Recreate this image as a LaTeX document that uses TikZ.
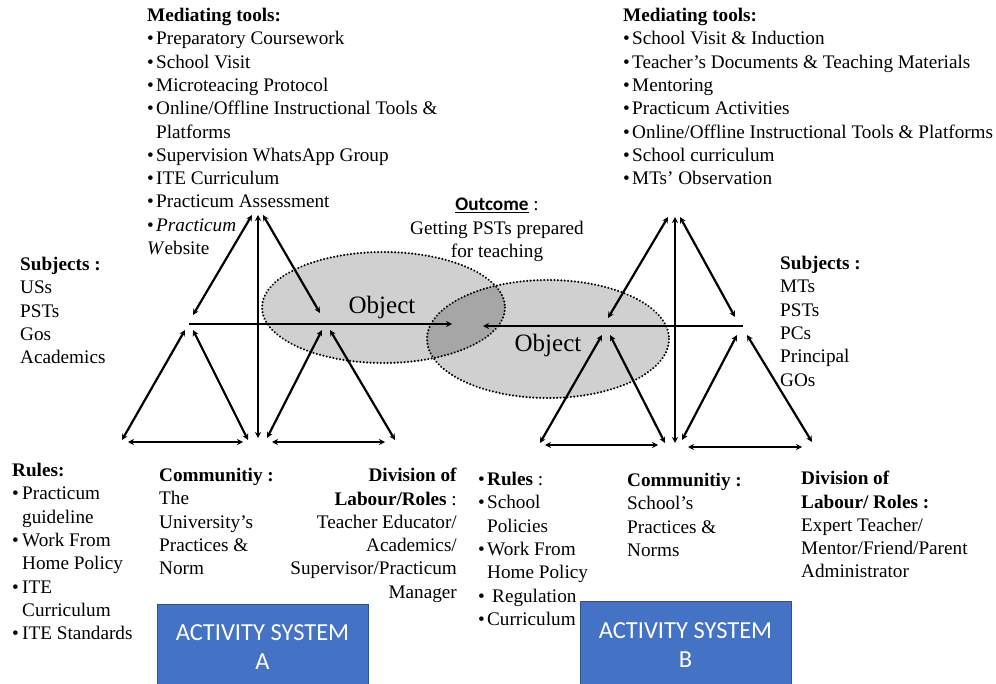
\documentclass[tikz,border=0pt]{standalone}
\usepackage{fontspec}
\setmainfont{Liberation Serif}
\newfontfamily\calibrifont{Carlito}
\usetikzlibrary{arrows.meta}
\newcommand{\tbul}{\makebox[9pt][l]{•}}
\newcommand{\tbulw}{\makebox[14pt][l]{•}}
\newcommand{\tind}{\hspace*{9pt}}
\definecolor{boxblue}{HTML}{4472C4}
\definecolor{boxedge}{HTML}{2F528F}
\definecolor{objlight}{HTML}{D0D0D0}
\definecolor{objdark}{HTML}{A6A6A6}
\tikzset{
  txt/.style={inner sep=0pt, align=left, font=\fontsize{19.2}{23.3}\selectfont, anchor=north west},
  twoway/.style={line width=2.2pt, {Stealth[length=6pt,width=6pt]}-{Stealth[length=6pt,width=6pt]}},
  oneway/.style={line width=2.2pt, -{Stealth[length=6pt,width=6pt]}},
  objedge/.style={line width=2.3pt, line cap=round, dash pattern=on 0.01pt off 3.4pt},
  sysbox/.style={draw=boxedge, line width=0.8pt, fill=boxblue, text=white, align=center,
     font=\calibrifont\fontsize{24.5}{29}\selectfont, minimum width=211pt, inner sep=0pt},
}
\begin{document}
\begin{tikzpicture}[x=1pt,y=-1pt]
\useasboundingbox (0,0) rectangle (996,684);
% objects
\coordinate (oA) at (383.5,307.5);
\coordinate (oB) at (548,339);
\fill[objlight] (oA) ellipse [x radius=121.5, y radius=55.5];
\fill[objlight] (oB) ellipse [x radius=121, y radius=59];
\begin{scope}
  \clip (oA) ellipse [x radius=121.5, y radius=55.5];
  \fill[objdark] (oB) ellipse [x radius=121, y radius=59];
\end{scope}
\draw[objedge] (oA) ellipse [x radius=121.5, y radius=55.5];
\draw[objedge] (oB) ellipse [x radius=121, y radius=59];
\node[font=\fontsize{25}{25}\selectfont, inner sep=0pt] (objAlabel) at (382,307) {Object};
\node[font=\fontsize{25}{25}\selectfont, inner sep=0pt] (objBlabel) at (548,345) {Object};

% ---------- System A ----------
\coordinate (a1s) at (252,215); \coordinate (a1e) at (193,315);
\coordinate (avs) at (258,215); \coordinate (ave) at (258,438);
\coordinate (a2s) at (263,215); \coordinate (a2e) at (320,313);
\coordinate (ahs) at (189,324); \coordinate (ahe) at (452,324);
\coordinate (al1s) at (185,330); \coordinate (al1e) at (122,440);
\coordinate (al2s) at (193,330); \coordinate (al2e) at (248,440);
\coordinate (al3s) at (128,442); \coordinate (al3e) at (243,442);
\coordinate (ar1s) at (322,330); \coordinate (ar1e) at (267,438);
\coordinate (ar2s) at (330,330); \coordinate (ar2e) at (395,440);
\coordinate (ar3s) at (272,442); \coordinate (ar3e) at (385,442);
\draw[twoway] (a1s) -- (a1e);
\draw[twoway] (avs) -- (ave);
\draw[twoway] (a2s) -- (a2e);
\draw[oneway] (ahs) -- (ahe);
\draw[twoway] (al1s) -- (al1e);
\draw[twoway] (al2s) -- (al2e);
\draw[twoway] (al3s) -- (al3e);
\draw[twoway] (ar1s) -- (ar1e);
\draw[twoway] (ar2s) -- (ar2e);
\draw[twoway] (ar3s) -- (ar3e);

% ---------- System B ----------
\coordinate (b1s) at (668,217); \coordinate (b1e) at (608,318);
\coordinate (bvs) at (675,217); \coordinate (bve) at (675,443);
\coordinate (b2s) at (680,217); \coordinate (b2e) at (735,317);
\coordinate (bhs) at (743,326); \coordinate (bhe) at (483,326);
\coordinate (bl1s) at (602,335); \coordinate (bl1e) at (540,443);
\coordinate (bl2s) at (610,335); \coordinate (bl2e) at (665,443);
\coordinate (bl3s) at (545,445); \coordinate (bl3e) at (658,445);
\coordinate (br1s) at (737,335); \coordinate (br1e) at (682,440);
\coordinate (br2s) at (747,335); \coordinate (br2e) at (812,442);
\coordinate (br3s) at (688,447); \coordinate (br3e) at (802,447);
\draw[twoway] (b1s) -- (b1e);
\draw[twoway] (bvs) -- (bve);
\draw[twoway] (b2s) -- (b2e);
\draw[oneway] (bhs) -- (bhe);
\draw[twoway] (bl1s) -- (bl1e);
\draw[twoway] (bl2s) -- (bl2e);
\draw[twoway] (bl3s) -- (bl3e);
\draw[twoway] (br1s) -- (br1e);
\draw[twoway] (br2s) -- (br2e);
\draw[twoway] (br3s) -- (br3e);

% ---------- Texts A ----------
\node[txt] (toolsA) at (147,8) {\textbf{Mediating tools:}\\
\tbul Preparatory Coursework\\
\tbul School Visit\\
\tbul Microteacing Protocol\\
\tbul Online/Offline Instructional Tools \&\\
\tind Platforms\\
\tbul Supervision WhatsApp Group\\
\tbul ITE Curriculum\\
\tbul Practicum Assessment\\
\tbul \textit{Practicum}\\
\textit{W}ebsite};
\node[txt] (subjA) at (20,257) {\textbf{Subjects :}\\USs\\PSTs\\Gos\\Academics};
\node[txt] (rulesA) at (12,463) {\textbf{Rules:}\\
\makebox[10pt][l]{•}Practicum\\
\hspace*{10pt}guideline\\
\makebox[10pt][l]{•}Work From\\
\hspace*{10pt}Home Policy\\
\makebox[10pt][l]{•}ITE\\
\hspace*{10pt}Curriculum\\
\makebox[10pt][l]{•}ITE Standards};
\node[txt] (commA) at (159,468) {\textbf{Communitiy :}\\The\\University’s\\Practices \&\\Norm};
\node[txt, anchor=north east, align=right] (divA) at (457,468) {\textbf{Division of}\\
\textbf{Labour/Roles} :\\Teacher Educator/\\Academics/\\Supervisor/Practicum\\Manager};

% ---------- Texts B ----------
\node[txt] (toolsB) at (623,8) {\textbf{Mediating tools:}\\
\tbul School Visit \& Induction\\
\tbul Teacher’s Documents \& Teaching Materials\\
\tbul Mentoring\\
\tbul Practicum Activities\\
\tbul Online/Offline Instructional Tools \& Platforms\\
\tbul School curriculum\\
\tbul MTs’ Observation};
\node[txt] (subjB) at (780,256) {\textbf{Subjects :}\\MTs\\PSTs\\PCs\\Principal\\GOs};
\node[txt] (rulesB) at (478,472) {\tbul\textbf{Rules} :\\
\tbul School\\
\tind Policies\\
\tbul Work From\\
\tind Home Policy\\
\tbulw Regulation\\
\tbul Curriculum};
\node[txt] (commB) at (627,473) {\textbf{Communitiy :}\\School’s\\Practices \&\\Norms};
\node[txt] (divB) at (801,471) {\textbf{Division of}\\\textbf{Labour/ Roles :}\\Expert Teacher/\\Mentor/Friend/Parent\\Administrator};

% ---------- Outcome ----------
\node[txt, anchor=north, align=center] (outcome) at (497,198) {{\calibrifont\bfseries\underline{Outcome}} :\\Getting PSTs prepared\\for teaching};

% ---------- System boxes ----------
\node[sysbox, minimum height=86pt] (sysA) at (262.5,647) {ACTIVITY SYSTEM\\A};
\node[sysbox, minimum height=88pt] (sysB) at (685.5,645) {ACTIVITY SYSTEM\\B};
\end{tikzpicture}
\end{document}
